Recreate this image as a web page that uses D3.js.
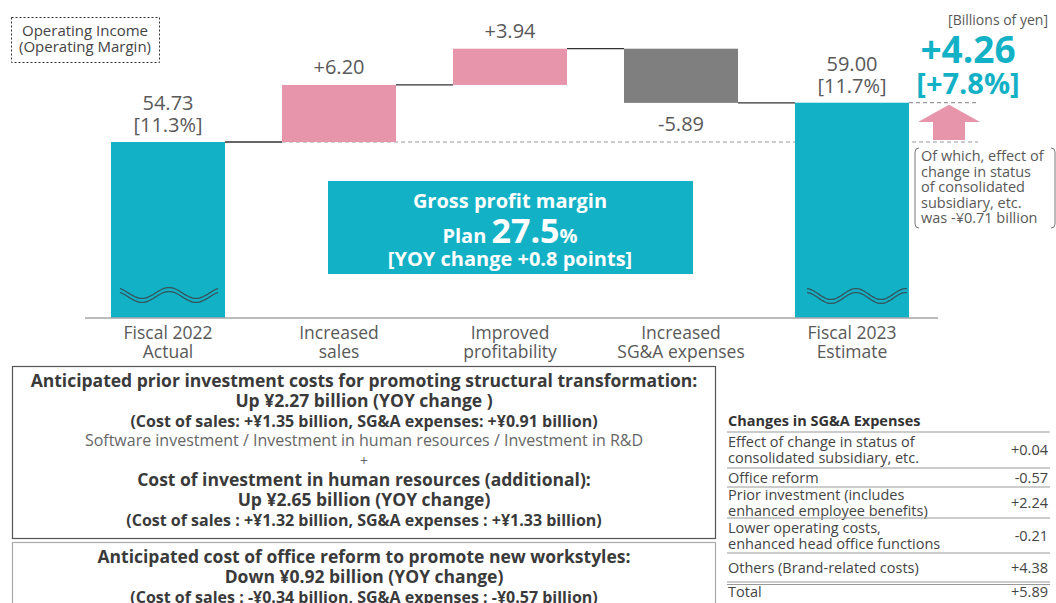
<!DOCTYPE html>
<html lang="en">
<head>
<meta charset="UTF-8">
<title>Operating income bridge</title>
<script src="https://cdn.jsdelivr.net/npm/d3@7"></script>
<style>
  body { margin: 0; background: #fff; }
  svg { display: block; }
</style>
</head>
<body>
<svg id="chart" width="1056" height="603"></svg>
<script>
// ---- data ----
var categories = ["Fiscal 2022|Actual", "Increased|sales", "Improved|profitability", "Increased|SG&A expenses", "Fiscal 2023|Estimate"];
var values = [54.73, 6.20, 3.94, -5.89, 59.00];
var kinds = ["total", "up", "up", "down", "total"];
var valueLabels = ["54.73", "+6.20", "+3.94", "-5.89", "59.00"];
var marginLabels = ["[11.3%]", "", "", "", "[11.7%]"];
var totalChange = "+4.26";
var totalChangePct = "[+7.8%]";
var noteLines = ["Of which, effect of", "change in status", "of consolidated", "subsidiary, etc.", "was -\u00a50.71 billion"];

var sgaTitle = "Changes in SG&A Expenses";
var sgaItems = ["Effect of change in status of|consolidated subsidiary, etc.", "Office reform",
  "Prior investment  (includes|enhanced employee benefits)", "Lower operating costs,|enhanced head office functions",
  "Others (Brand-related costs)", "Total"];
var sgaValues = ["+0.04", "-0.57", "+2.24", "-0.21", "+4.38", "+5.89"];

var box1Lines = [
  ["Anticipated prior investment costs for promoting structural transformation:", "b"],
  ["Up \u00a52.27 billion (YOY change )", "b"],
  ["(Cost of sales: +\u00a51.35 billion, SG&A expenses: +\u00a50.91 billion)", "s"],
  ["Software investment / Investment in human resources / Investment in R&D", "n"],
  ["+", "p"],
  ["Cost of investment in human resources (additional):", "b"],
  ["Up \u00a52.65 billion (YOY change)", "b"],
  ["(Cost of sales : +\u00a51.32 billion, SG&A expenses : +\u00a51.33 billion)", "s"]
];
var box2Lines = [
  ["Anticipated cost of office reform to promote new workstyles:", "b"],
  ["Down \u00a50.92 billion (YOY change)", "b"],
  ["(Cost of sales : -\u00a50.34 billion, SG&A expenses : -\u00a50.57 billion)", "s"]
];

// ---- setup ----
var teal = "#13b1c6", pink = "#e795aa", grey = "#7f7f7f", txt = "#595959";
var font = "'Open Sans', 'Noto Sans', sans-serif";

var svg = d3.select("#chart");

var x = d3.scaleBand().domain(categories).range([111, 909]).paddingInner(1 / 3).paddingOuter(0);
// broken axis: bars start from a cut-off base
var y = d3.scaleLinear().domain([35.6, 66]).range([318, 38.3]);
var base = y.domain()[0];

var running = 0;
var steps = values.map(function (v, i) {
  var s;
  if (kinds[i] == "total") { s = { start: base, end: v }; running = v; }
  else { s = { start: running, end: running + v }; running += v; }
  s.cat = categories[i]; s.kind = kinds[i]; s.i = i;
  return s;
});

// dashed reference lines
svg.append("line")
  .attr("x1", x(categories[1])).attr("x2", 978)
  .attr("y1", y(values[0])).attr("y2", y(values[0]))
  .attr("stroke", "#999").attr("stroke-dasharray", "4,3").attr("stroke-width", 1.2);
svg.append("line")
  .attr("x1", x(categories[4]) + x.bandwidth()).attr("x2", 978)
  .attr("y1", y(values[4])).attr("y2", y(values[4]))
  .attr("stroke", "#999").attr("stroke-dasharray", "4,3").attr("stroke-width", 1.2);

// bars
svg.selectAll("rect.bar")
  .data(steps)
  .enter()
  .append("rect")
  .attr("class", "bar")
  .attr("x", function (d) { return x(d.cat); })
  .attr("width", x.bandwidth())
  .attr("y", function (d) { return y(Math.max(d.start, d.end)); })
  .attr("height", function (d) { return Math.abs(y(d.start) - y(d.end)); })
  .attr("fill", function (d) { return d.kind == "total" ? teal : d.kind == "up" ? pink : grey; });

// connectors
svg.selectAll("line.conn")
  .data(steps.slice(0, -1))
  .enter()
  .append("line")
  .attr("x1", function (d) { return x(d.cat) + x.bandwidth(); })
  .attr("x2", function (d) { return x(categories[d.i + 1]); })
  .attr("y1", function (d) { return y(d.end); })
  .attr("y2", function (d) { return y(d.end); })
  .attr("stroke", "#333").attr("stroke-width", 1.3);

// axis baseline
svg.append("line").attr("x1", 85).attr("x2", 938).attr("y1", y(base)).attr("y2", y(base))
  .attr("stroke", "#a6a6a6").attr("stroke-width", 1.5);

// category labels
svg.selectAll("text.cat")
  .data(categories)
  .enter()
  .append("text")
  .attr("text-anchor", "middle")
  .attr("font-family", font).attr("font-size", 17.5).attr("fill", txt)
  .attr("transform", function (d) { return "translate(" + (x(d) + x.bandwidth() / 2) + "," + 339 + ")"; })
  .each(function (d) {
    var parts = d.split("|");
    d3.select(this).selectAll("tspan").data(parts).enter().append("tspan")
      .attr("x", 0).attr("dy", function (p, j) { return j ? 19 : 0; }).text(function (p) { return p; });
  });

// value labels
steps.forEach(function (d, i) {
  var cx = x(d.cat) + x.bandwidth() / 2;
  var top = y(Math.max(d.start, d.end));
  var g = svg.append("text").attr("text-anchor", "middle")
    .attr("font-family", font).attr("font-size", 20).attr("fill", txt);
  if (d.kind == "total") {
    g.append("tspan").attr("x", cx).attr("y", top - 32).text(valueLabels[i]);
    g.append("tspan").attr("x", cx).attr("y", top - 10).text(marginLabels[i]);
  } else if (d.kind == "up") {
    g.attr("x", cx).attr("y", top - 11).text(valueLabels[i]);
  } else {
    g.attr("x", cx).attr("y", y(d.end) + 28).text(valueLabels[i]);
  }
});

// wavy break marks on total bars
var wave = d3.line().curve(d3.curveBasis);
[{ i: 0, x0: 120, x1: 218, peak: 169, cy: 293, per: 54 },
 { i: 4, x0: 807, x1: 907, peak: 856, cy: 294, per: 50 }].forEach(function (w) {
  [0, 4].forEach(function (off) {
    var pts = d3.range(w.x0, w.x1 + 1, 2).map(function (px) {
      return [px, w.cy + off - 5.5 * Math.cos(2 * Math.PI * (px - w.peak) / w.per)];
    });
    svg.append("path").attr("d", wave(pts)).attr("fill", "none")
      .attr("stroke", "#36545c").attr("stroke-width", 1.3);
  });
});

// gross profit margin box
svg.append("rect").attr("x", 328).attr("y", 181).attr("width", 365).attr("height", 93).attr("fill", teal);
svg.append("text").attr("x", 510).attr("y", 208).attr("text-anchor", "middle")
  .attr("font-family", font).attr("font-weight", "bold").attr("font-size", 20).attr("fill", "#fff")
  .text("Gross profit margin");
var plan = svg.append("text").attr("x", 510).attr("y", 243).attr("text-anchor", "middle")
  .attr("font-family", font).attr("font-weight", "bold").attr("fill", "#fff");
plan.append("tspan").attr("font-size", 20).text("Plan ");
plan.append("tspan").attr("font-size", 34).text("27.5");
plan.append("tspan").attr("font-size", 20).text("%");
svg.append("text").attr("x", 510).attr("y", 266).attr("text-anchor", "middle")
  .attr("font-family", font).attr("font-weight", "bold").attr("font-size", 20).attr("fill", "#fff")
  .text("[YOY change +0.8 points]");

// legend box
svg.append("rect").attr("x", 11.5).attr("y", 17.5).attr("width", 148).attr("height", 45)
  .attr("fill", "none").attr("stroke", "#333").attr("stroke-dasharray", "2,2");
svg.append("text").attr("x", 85).attr("y", 36).attr("text-anchor", "middle")
  .attr("font-family", font).attr("font-size", 15).attr("fill", "#444").text("Operating Income");
svg.append("text").attr("x", 85).attr("y", 52).attr("text-anchor", "middle")
  .attr("font-family", font).attr("font-size", 15).attr("fill", "#444").text("(Operating Margin)");

// unit and total change
svg.append("text").attr("x", 1048).attr("y", 25).attr("text-anchor", "end")
  .attr("font-family", font).attr("font-size", 14).attr("fill", txt).text("[Billions of yen]");
svg.append("text").attr("x", 968).attr("y", 63).attr("text-anchor", "middle")
  .attr("font-family", font).attr("font-weight", "bold").attr("font-size", 37).attr("fill", teal).text(totalChange);
svg.append("text").attr("x", 968).attr("y", 94).attr("text-anchor", "middle")
  .attr("font-family", font).attr("font-weight", "bold").attr("font-size", 29).attr("fill", teal).text(totalChangePct);

// arrow
var yTop = y(values[4]) + 2, yBot = y(values[0]) - 2;
svg.append("polygon")
  .attr("points", [[949, yTop], [980, 122], [965, 122], [965, yBot], [933, yBot], [933, 122], [918, 122]].join(" "))
  .attr("fill", pink);

// note with brackets
svg.append("path").attr("d", "M919,148 Q915,148 915,152 L915,224 Q915,228 919,228")
  .attr("fill", "none").attr("stroke", "#777");
svg.append("path").attr("d", "M1051,148 Q1055,148 1055,152 L1055,224 Q1055,228 1051,228")
  .attr("fill", "none").attr("stroke", "#777");
svg.append("text").attr("font-family", font).attr("font-size", 14.5).attr("fill", txt)
  .selectAll("tspan").data(noteLines).enter().append("tspan")
  .attr("x", 921).attr("y", function (d, i) { return 161 + i * 15.6; }).text(function (d) { return d; });

// lower left boxes
function textBox(lines, bx, by, bw, bh, stroke, y0) {
  svg.append("rect").attr("x", bx).attr("y", by).attr("width", bw).attr("height", bh)
    .attr("fill", "none").attr("stroke", stroke).attr("stroke-width", 1.2);
  var ly = y0;
  lines.forEach(function (l) {
    var t = svg.append("text").attr("x", bx + bw / 2).attr("y", ly).attr("text-anchor", "middle")
      .attr("font-family", font).attr("fill", "#3a3a3a").text(l[0]);
    if (l[1] == "b") t.attr("font-weight", "bold").attr("font-size", 17.5);
    if (l[1] == "s") t.attr("font-weight", "bold").attr("font-size", 16);
    if (l[1] == "n") t.attr("font-size", 16).attr("fill", "#666");
    if (l[1] == "p") t.attr("font-size", 14).attr("fill", "#666");
    ly += 19.8;
  });
}
textBox(box1Lines, 12.5, 366.5, 703, 172, "#555", 387);
textBox(box2Lines, 12.5, 542.5, 703, 70, "#aaa", 563);

// SG&A table
svg.append("text").attr("x", 728).attr("y", 426).attr("font-family", font).attr("font-weight", "bold")
  .attr("font-size", 14.5).attr("fill", "#333").text(sgaTitle);
var rowTops = [432, 468, 487, 518, 553, 583];
var rowBots = [468, 487, 518, 553, 583, 610];
svg.append("line").attr("x1", 727).attr("x2", 1050).attr("y1", 432).attr("y2", 432).attr("stroke", "#999");
sgaItems.forEach(function (it, i) {
  var parts = it.split("|");
  var mid = (rowTops[i] + rowBots[i]) / 2;
  if (i == 5) mid = 592;
  var t = svg.append("text").attr("font-family", font).attr("font-size", 14.5).attr("fill", "#444");
  parts.forEach(function (p, j) {
    t.append("tspan").attr("x", 728)
      .attr("y", mid + 5 + (j - (parts.length - 1) / 2) * 16).text(p);
  });
  svg.append("text").attr("x", 1048).attr("y", mid + 5).attr("text-anchor", "end")
    .attr("font-family", font).attr("font-size", 14.5).attr("fill", "#444").text(sgaValues[i]);
  if (i < 4) {
    svg.append("line").attr("x1", 727).attr("x2", 1050).attr("y1", rowBots[i]).attr("y2", rowBots[i]).attr("stroke", "#999");
  } else if (i == 4) {
    svg.append("line").attr("x1", 727).attr("x2", 1050).attr("y1", 582).attr("y2", 582).attr("stroke", "#999");
    svg.append("line").attr("x1", 727).attr("x2", 1050).attr("y1", 584.5).attr("y2", 584.5).attr("stroke", "#999");
  }
});
</script>
</body>
</html>
